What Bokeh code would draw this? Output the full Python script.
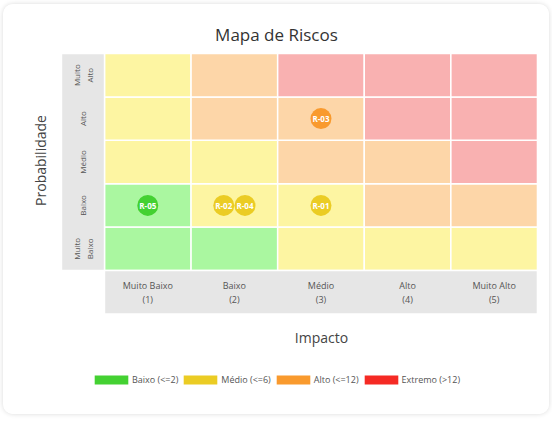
from bokeh.plotting import figure
from bokeh.models import ColumnDataSource, Legend, LegendItem
from bokeh.core.properties import value
from bokeh.embed import file_html
from bokeh.resources import INLINE
import math

# ---- data ----
impact_labels = ["Muito Baixo", "Baixo", "Médio", "Alto", "Muito Alto"]
prob_labels = ["Muito\nBaixo", "Baixo", "Médio", "Alto", "Muito\nAlto"]
risk_ids = ["R-01", "R-02", "R-03", "R-04", "R-05"]
risk_impact = [3, 2, 3, 2, 1]
risk_prob = [2, 2, 4, 2, 2]
level_names = ["Baixo (<=2)", "Médio (<=6)", "Alto (<=12)", "Extremo (>12)"]
level_limits = [2, 6, 12, 999]
cell_colors = ["#aaf7a0", "#fdf5a2", "#fdd6a8", "#f9b1b1"]
strong_colors = ["#44d132", "#ebcc24", "#f99a2e", "#f52a24"]

FONT = "Open Sans"

def level(score):
    for i, lim in enumerate(level_limits):
        if score <= lim:
            return i
    return len(level_limits) - 1

W, H = 546, 410
p = figure(width=W, height=H, x_range=(-0.666, 5.639), y_range=(-2.818, 6.629),
           output_backend="svg", toolbar_location=None, x_axis_type=None, y_axis_type=None,
           min_border=0, min_border_left=0, min_border_right=0, min_border_top=0, min_border_bottom=0)
p.grid.visible = False
p.outline_line_color = None
p.background_fill_color = "white"
p.border_fill_color = "white"
p.styles = {"margin": "4px 0 0 3px", "border-radius": "10px",
            "box-shadow": "0 0 5px rgba(0,0,0,0.15)", "overflow": "hidden"}

# cells
cx, cy, cc = [], [], []
for pi_ in range(1, 6):
    for ii in range(1, 6):
        cx.append(ii); cy.append(pi_); cc.append(cell_colors[level(ii * pi_)])
p.rect(x=cx, y=cy, width=1, height=1, fill_color=cc, line_color="white", line_width=1.5)

# gray label bands
p.rect(x=[3.0], y=[0.0], width=5, height=1, fill_color="#e6e6e6", line_color="white", line_width=1.5)
p.rect(x=[0.252], y=[3.0], width=0.497, height=5, fill_color="#e6e6e6", line_color="white", line_width=1.5)

# impact labels
ix = list(range(1, 6))
p.text(x=ix, y=[0] * 5, text=impact_labels, y_offset=-7, text_align="center", text_baseline="middle",
       text_font=value(FONT), text_font_size="9px", text_color="#555555")
p.text(x=ix, y=[0] * 5, text=[f"({i})" for i in ix], y_offset=7, text_align="center", text_baseline="middle",
       text_font=value(FONT), text_font_size="9px", text_color="#555555")

# probability labels (rotated)
p.text(x=[0.252] * 5, y=list(range(1, 6)), text=prob_labels, angle=math.pi / 2,
       text_align="center", text_baseline="middle", text_line_height=1.1,
       text_font=value(FONT), text_font_size="8px", text_color="#555555")

# risks: spread within cell
groups = {}
for r, i, pr in zip(risk_ids, risk_impact, risk_prob):
    groups.setdefault((i, pr), []).append(r)
rx, ry, rt, rc = [], [], [], []
for (i, pr), rs in groups.items():
    n = len(rs)
    for k, r in enumerate(sorted(rs)):
        rx.append(i + (k - (n - 1) / 2) * 0.245)
        ry.append(pr)
        rt.append(r)
        rc.append(strong_colors[level(i * pr)])
src = ColumnDataSource(dict(x=rx, y=ry, t=rt, c=rc))
p.scatter(x="x", y="y", source=src, size=21, fill_color="c", line_color=None)
p.text(x="x", y="y", text="t", source=src, text_align="center", text_baseline="middle",
       text_font=value(FONT), text_font_size="8px", text_font_style="bold", text_color="white")

# titles (as text glyphs inside the full-canvas frame)
p.text(x=[2.486], y=[5.938], text=["Mapa de Riscos"], text_align="center", text_baseline="middle",
       text_font=value(FONT), text_font_size="17px", text_color="#333333")
p.text(x=[3.006], y=[-1.044], text=["Impacto"], text_align="center", text_baseline="middle",
       text_font=value(FONT), text_font_size="14px", text_color="#444444")
p.text(x=[-0.239], y=[3.035], text=["Probabilidade"], angle=math.pi / 2, text_align="center",
       text_baseline="middle", text_font=value(FONT), text_font_size="14px", text_color="#444444")

# legend (swatch renderers hold one off-screen NaN point so the legend can draw them)
items = []
for name, col in zip(level_names, strong_colors):
    r = p.rect(x=[float("nan")], y=[float("nan")], width=1, height=1, fill_color=col, line_color=None)
    items.append(LegendItem(label=name, renderers=[r], index=0))
leg = Legend(items=items, orientation="horizontal", location=(87, 28),
             glyph_width=42, glyph_height=11, label_standoff=0, spacing=1, padding=0, margin=0,
             label_text_font=FONT, label_text_font_size="9px", label_text_color="#555555",
             border_line_color=None, background_fill_alpha=0, label_height=12)
p.add_layout(leg, "center")

open("out.html", "w").write(file_html(p, INLINE))
